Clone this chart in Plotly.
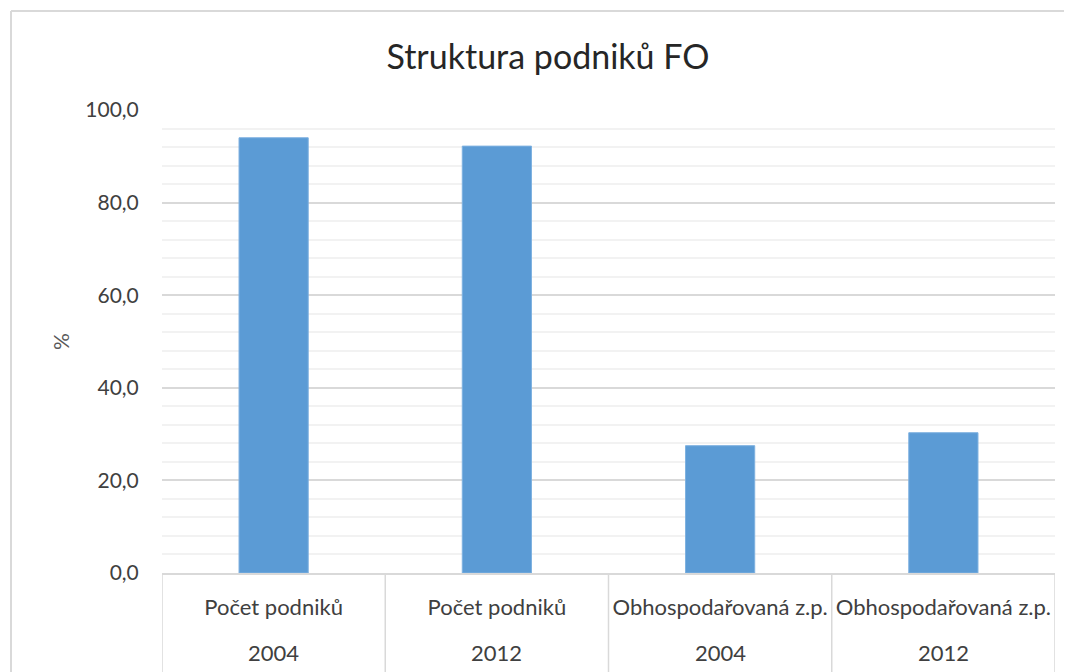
import plotly.graph_objects as go

categories = ["Počet podniků", "Počet podniků", "Obhospodařovaná z.p.", "Obhospodařovaná z.p."]
years = ["2004", "2012", "2004", "2012"]
values = [94.0, 92.2, 27.5, 30.3]

title_text = "Struktura podniků FO"
y_title = "%"

xpos = list(range(len(values)))

OFF = 8  # browser body margin
W, H = 1072 - OFF, 672 - OFF
L, R, T = 162 - OFF, 17, 110 - OFF
PB = 573 - OFF           # plot bottom in figure px
B = H - PB
pw = W - L - R
ph = H - T - B

def px_x(px):
    """reference pixel x -> paper x"""
    return (px - OFF - L) / pw

def px_y(py):
    """reference pixel y -> paper y"""
    return (PB - (py - OFF)) / ph

FONT = "Lato"
GRAY = "#595959"
DARK = "#404040"

fig = go.Figure()
fig.add_trace(go.Bar(
    x=xpos, y=values, width=0.31,
    marker=dict(color="#5b9bd5", line=dict(color="#7eb1e0", width=1)),
    hoverinfo="y",
))

shapes = []
for i in range(len(values) + 1):
    shapes.append(dict(type="line", xref="x", yref="paper",
                       x0=i - 0.5, x1=i - 0.5, y0=0, y1=px_y(672),
                       line=dict(color="#d9d9d9", width=1.5), layer="above"))
# outer chart border
shapes.append(dict(type="line", xref="paper", yref="paper",
                   x0=px_x(11), x1=px_x(1072), y0=px_y(11), y1=px_y(11),
                   line=dict(color="#d9d9d9", width=2)))
shapes.append(dict(type="line", xref="paper", yref="paper",
                   x0=px_x(11), x1=px_x(11), y0=px_y(11), y1=px_y(672),
                   line=dict(color="#d9d9d9", width=2)))

annotations = []
for i, yr in zip(xpos, years):
    annotations.append(dict(x=i, xref="x", y=px_y(652), yref="paper",
                            text=yr, showarrow=False, xanchor="center", yanchor="middle",
                            font=dict(family=FONT, size=22, color=DARK)))

fig.update_layout(
    width=W, height=H,
    margin=dict(l=L, r=R, t=T, b=B, autoexpand=False),
    paper_bgcolor="white", plot_bgcolor="white",
    separators=", ",
    showlegend=False,
    font=dict(family=FONT, color=GRAY, size=21),
    title=dict(text=title_text, x=px_x(548), xref="paper", xanchor="center",
               y=1 - (57 - OFF) / H, yanchor="middle",
               font=dict(family=FONT, size=34, color="#262626")),
    shapes=shapes,
    annotations=annotations,
)
fig.update_xaxes(
    tickmode="array", tickvals=xpos, ticktext=categories,
    range=[-0.5, len(values) - 0.5],
    showgrid=False, zeroline=False,
    showline=True, linecolor="#d9d9d9", linewidth=1.5,
    ticks="outside", ticklen=14, tickcolor="rgba(0,0,0,0)",
    tickfont=dict(family=FONT, size=22, color=DARK),
)
fig.update_yaxes(
    range=[0, 100], dtick=20, tick0=0, tickformat=".1f",
    showgrid=True, gridcolor="#d9d9d9", gridwidth=1.5,
    zeroline=False, showline=False,
    ticks="outside", ticklen=18, tickcolor="rgba(0,0,0,0)",
    tickfont=dict(family=FONT, size=21, color=DARK),
    minor=dict(dtick=4, showgrid=True, gridcolor="#f2f2f2", gridwidth=1.5),
    title=dict(text=y_title, standoff=9, font=dict(family=FONT, size=21, color=GRAY)),
)

fig.write_html("out.html", config={"displayModeBar": False})
